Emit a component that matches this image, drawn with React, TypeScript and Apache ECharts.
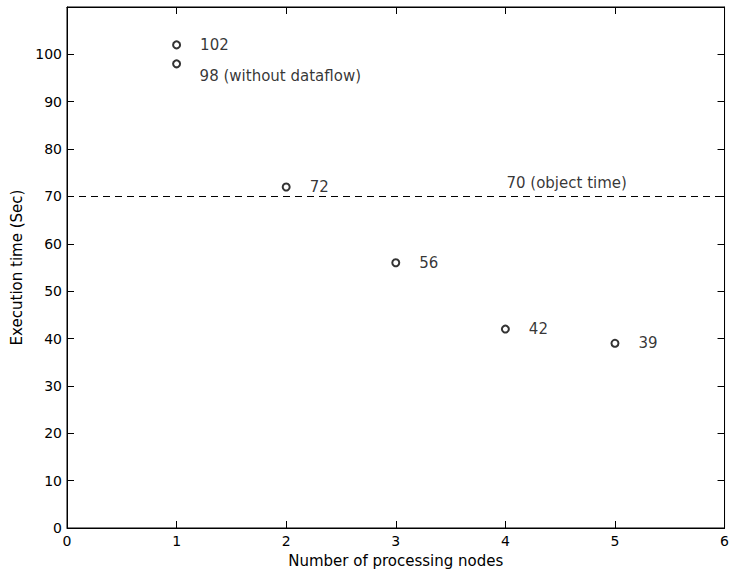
import React, { useEffect, useRef } from "react";
import * as echarts from "echarts";

const nodes = [1, 1, 2, 3, 4, 5];
const times = [102, 98, 72, 56, 42, 39];
const pointLabels = ["102", "", "72", "56", "42", "39"];
const extraNotes: [number, number, string][] = [
  [1.21, 95.4, "98 (without dataflow)"],
  [4.01, 72.8, "70 (object time)"],
];
const objectTime = 70;
const xTicks = [0, 1, 2, 3, 4, 5, 6];
const yTicks = [0, 10, 20, 30, 40, 50, 60, 70, 80, 90, 100];

const FONT = "DejaVu Sans, Verdana, sans-serif";

export default function App() {
  const ref = useRef<HTMLDivElement>(null);
  useEffect(() => {
    if (!ref.current) return;
    const chart = echarts.init(ref.current, undefined, { renderer: "svg" });
    const axisCommon = {
      axisLine: { show: true, onZero: false, lineStyle: { color: "#000", width: 1 } },
      axisTick: { show: true, inside: true, length: 7, lineStyle: { color: "#000" } },
      splitLine: { show: false },
    };
    chart.setOption({
      animation: false,
      backgroundColor: "#fff",
      textStyle: { fontFamily: FONT, color: "#000" },
      grid: { left: 67, right: 5, top: 7, bottom: 50, show: true, borderColor: "#000", borderWidth: 1, backgroundColor: "transparent" },
      xAxis: [
        {
          type: "value",
          position: "bottom",
          min: 0,
          max: 6,
          interval: 1,
          name: "Number of processing nodes",
          nameLocation: "middle",
          nameGap: 25,
          nameTextStyle: { fontFamily: FONT, fontSize: 15, color: "#000" },
          axisLabel: { color: "#000", fontSize: 14, fontFamily: FONT, margin: 6,
            formatter: (v: number) => (xTicks.includes(v) ? String(v) : "") },
          ...axisCommon,
        },
        {
          type: "value",
          position: "top",
          min: 0,
          max: 6,
          interval: 1,
          axisLabel: { show: false },
          ...axisCommon,
        },
      ],
      yAxis: [
        {
          type: "value",
          position: "left",
          min: 0,
          max: 110,
          interval: 10,
          name: "Execution time (Sec)",
          nameLocation: "middle",
          nameGap: 38,
          nameTextStyle: { fontFamily: FONT, fontSize: 15, color: "#000" },
          axisLabel: { color: "#000", fontSize: 14, fontFamily: FONT, margin: 5,
            formatter: (v: number) => (yTicks.includes(v) ? String(v) : "") },
          ...axisCommon,
        },
        {
          type: "value",
          position: "right",
          min: 0,
          max: 110,
          interval: 10,
          axisLabel: { show: false },
          ...axisCommon,
        },
      ],
      series: [
        {
          type: "scatter",
          xAxisIndex: 0,
          yAxisIndex: 0,
          symbol: "emptyCircle",
          symbolSize: 7,
          itemStyle: { color: "#000", borderColor: "#000", borderWidth: 1.2 },
          data: nodes.map((x, i) => ({
            value: [x, times[i]],
            label: {
              show: pointLabels[i] !== "",
              formatter: pointLabels[i],
              position: "right",
              distance: 19,
              color: "#000",
              fontSize: 15,
              fontFamily: FONT,
            },
          })),
          markLine: {
            silent: true,
            symbol: "none",
            label: { show: false },
            lineStyle: { color: "#000", type: [7, 5], width: 1 },
            data: [{ yAxis: objectTime }],
          },
        },
        {
          type: "scatter",
          xAxisIndex: 0,
          yAxisIndex: 0,
          symbolSize: 0,
          silent: true,
          data: extraNotes.map((n) => ({
            value: [n[0], n[1]],
            label: {
              show: true,
              formatter: n[2],
              position: "right",
              distance: 0,
              color: "#000",
              fontSize: 15,
              fontFamily: FONT,
            },
          })),
        },
      ],
    });
    return () => chart.dispose();
  }, []);
  return (
    <div
      ref={ref}
      style={{ position: "fixed", left: 0, top: 0, width: 732, height: 578 }}
    />
  );
}
